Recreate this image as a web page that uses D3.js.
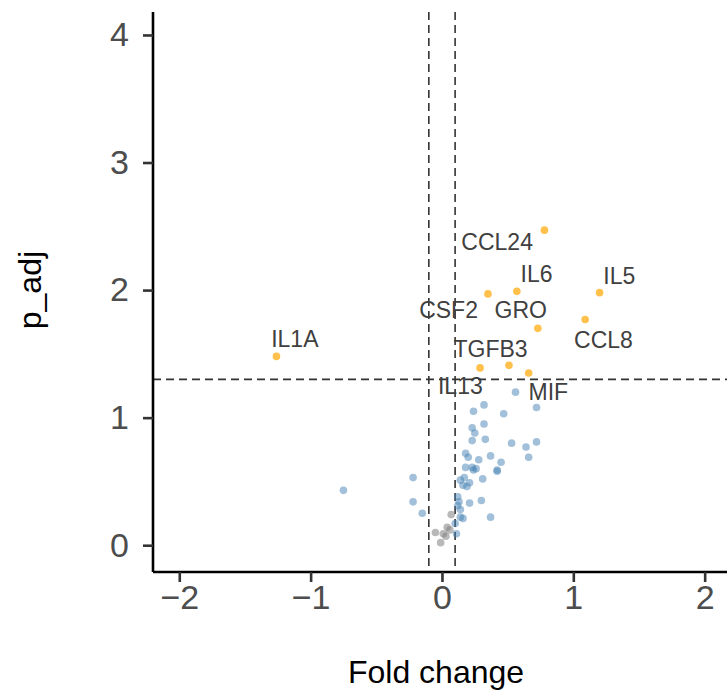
<!DOCTYPE html>
<html>
<head>
<meta charset="utf-8">
<script src="https://cdn.jsdelivr.net/npm/d3@7"></script>
<style>
  body { margin: 0; background: #fff; }
  text { font-family: "Liberation Sans", Arial, sans-serif; }
</style>
</head>
<body>
<div id="chart"></div>
<script>
// significant genes (orange) with their label positions
const sigGenes = ['IL1A', 'CCL24', 'IL6', 'CSF2', 'IL5', 'GRO', 'CCL8', 'TGFB3', 'IL13', 'MIF'];
const sigFc = [-1.26, 0.78, 0.57, 0.35, 1.20, 0.73, 1.09, 0.29, 0.51, 0.66];
const sigPadj = [1.48, 2.47, 1.99, 1.97, 1.98, 1.70, 1.77, 1.39, 1.41, 1.35];
const labelFc = [-1.12, 0.42, 0.72, 0.05, 1.35, 0.60, 1.23, 0.37, 0.14, 0.81];
const labelPadj = [1.62, 2.38, 2.13, 1.84, 2.11, 1.84, 1.61, 1.54, 1.25, 1.20];

// not significant, outside fold-change band (blue)
const blueFc = [0.56, 0.32, 0.24, 0.47, 0.72, 0.32, 0.23, 0.25, 0.23, 0.33, 0.53, 0.64, 0.72, 0.66,
  0.18, 0.20, 0.28, 0.37, 0.45, 0.42, 0.42, 0.18, 0.23, 0.26, 0.24, 0.31, 0.14, 0.17, 0.21, 0.16,
  0.19, -0.22, -0.22, -0.15, 0.12, 0.13, 0.12, 0.21, 0.30, 0.14, 0.14, 0.16, 0.37, 0.10, 0.11, -0.75];
const bluePadj = [1.20, 1.10, 1.05, 1.03, 1.08, 0.95, 0.92, 0.88, 0.82, 0.83, 0.80, 0.77, 0.81, 0.69,
  0.72, 0.69, 0.67, 0.70, 0.65, 0.59, 0.58, 0.61, 0.61, 0.60, 0.59, 0.52, 0.51, 0.53, 0.49, 0.47,
  0.46, 0.53, 0.34, 0.25, 0.38, 0.34, 0.31, 0.33, 0.35, 0.28, 0.22, 0.21, 0.22, 0.17, 0.09, 0.43];

// inside fold-change band (gray)
const grayFc = [0.07, 0.04, -0.05, 0.01, 0.03, -0.01, 0.06];
const grayPadj = [0.24, 0.14, 0.10, 0.09, 0.07, 0.02, 0.12];

const xTicks = [-2, -1, 0, 1, 2];
const yTicks = [0, 1, 2, 3, 4];
const fcCut = [-0.1, 0.1];
const pCut = 1.3;

const width = 727, height = 695;
const margin = { top: 12, right: 0, bottom: 123, left: 153 };

const svg = d3.select('#chart').append('svg')
  .attr('width', width)
  .attr('height', height);

const x = d3.scaleLinear().domain([-2.2, 2.17]).range([margin.left, width - margin.right]);
const y = d3.scaleLinear().domain([-0.21, 4.18]).range([height - margin.bottom, margin.top]);

// threshold lines
svg.selectAll('.vline')
  .data(fcCut)
  .enter()
  .append('line')
  .attr('x1', d => x(d)).attr('x2', d => x(d))
  .attr('y1', y.range()[1]).attr('y2', y.range()[0])
  .attr('stroke', '#333').attr('stroke-width', 1.6)
  .attr('stroke-dasharray', '8,5');

svg.append('line')
  .attr('x1', x.range()[0]).attr('x2', x.range()[1])
  .attr('y1', y(pCut)).attr('y2', y(pCut))
  .attr('stroke', '#333').attr('stroke-width', 1.6)
  .attr('stroke-dasharray', '8,5');

// points
const drawPoints = (fc, padj, color, opacity) => {
  svg.append('g')
    .selectAll('circle')
    .data(fc.map((d, i) => ({ fc: d, padj: padj[i] })))
    .enter()
    .append('circle')
    .attr('cx', d => x(d.fc))
    .attr('cy', d => y(d.padj))
    .attr('r', 3.8)
    .attr('fill', color)
    .attr('fill-opacity', opacity);
};
drawPoints(grayFc, grayPadj, '#808080', 0.55);
drawPoints(blueFc, bluePadj, 'steelblue', 0.5);
drawPoints(sigFc, sigPadj, '#FFA500', 0.7);

// gene labels
svg.append('g')
  .selectAll('text')
  .data(sigGenes)
  .enter()
  .append('text')
  .attr('x', (d, i) => x(labelFc[i]))
  .attr('y', (d, i) => y(labelPadj[i]))
  .attr('text-anchor', 'middle')
  .attr('dominant-baseline', 'central')
  .attr('font-size', 23)
  .attr('fill', '#404040')
  .text(d => d);

// axes
const xAxis = svg.append('g')
  .attr('transform', `translate(0,${y.range()[0]})`)
  .call(d3.axisBottom(x).tickValues(xTicks).tickSize(10).tickPadding(3).tickFormat(d3.format('d')));
const yAxis = svg.append('g')
  .attr('transform', `translate(${x.range()[0]},0)`)
  .call(d3.axisLeft(y).tickValues(yTicks).tickSize(10).tickPadding(14).tickFormat(d3.format('d')));

[xAxis, yAxis].forEach(ax => {
  ax.select('.domain').attr('stroke', '#000').attr('stroke-width', 2.6);
  ax.selectAll('.tick line').attr('stroke', '#333').attr('stroke-width', 2.6);
  ax.selectAll('.tick text')
    .attr('font-size', 34)
    .attr('fill', '#4d4d4d')
    .attr('font-family', '"Liberation Sans", Arial, sans-serif');
});
// domain lines without the outer tick stubs
xAxis.select('.domain').attr('d', `M${x.range()[0]},0H${x.range()[1]}`);
yAxis.select('.domain').attr('d', `M0,${y.range()[0]}V${y.range()[1]}`);

// axis titles
svg.append('text')
  .attr('x', 436)
  .attr('y', 683)
  .attr('text-anchor', 'middle')
  .attr('font-size', 32)
  .attr('fill', '#000')
  .text('Fold change');

svg.append('text')
  .attr('transform', `translate(41,${y(2)}) rotate(-90)`)
  .attr('text-anchor', 'middle')
  .attr('font-size', 32)
  .attr('fill', '#000')
  .text('p_adj');
</script>
</body>
</html>
